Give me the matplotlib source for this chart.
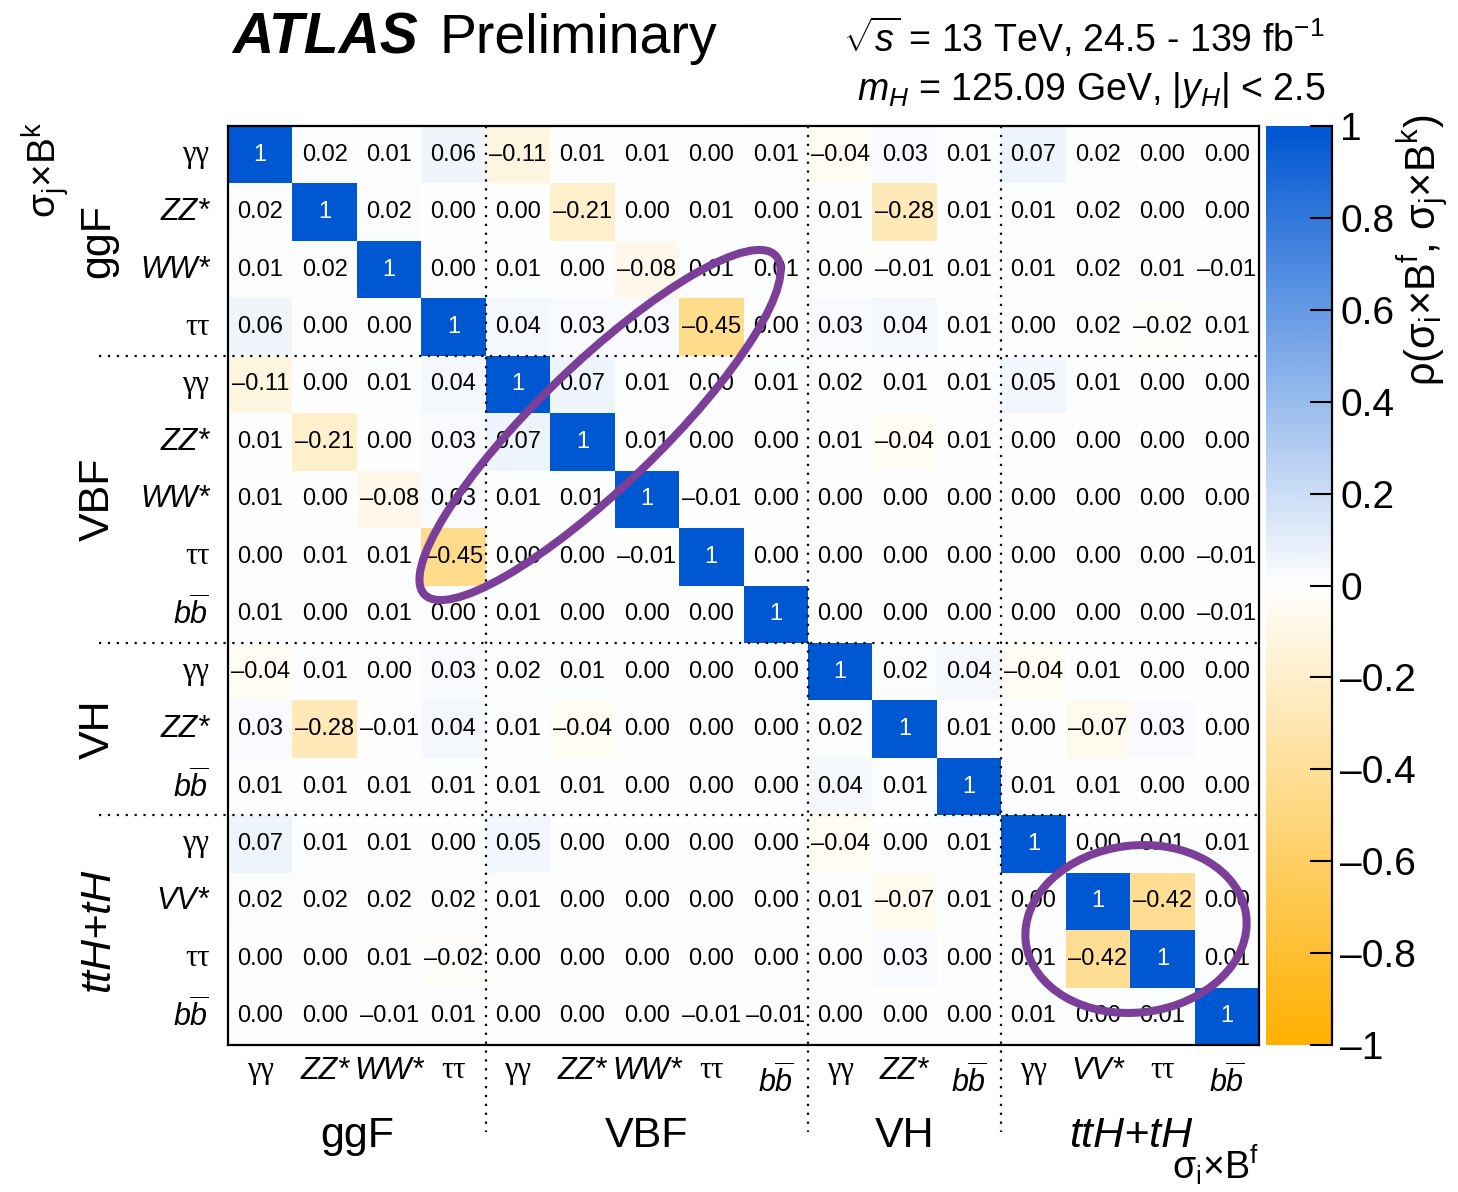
import numpy as np
import matplotlib
matplotlib.use("Agg")
import matplotlib.pyplot as plt
from matplotlib.colors import LinearSegmentedColormap
from matplotlib.patches import Ellipse

plt.rcParams['font.family'] = ['Liberation Sans', 'DejaVu Sans']
plt.rcParams['mathtext.fontset'] = 'custom'
plt.rcParams['mathtext.rm'] = 'Liberation Sans'
plt.rcParams['mathtext.it'] = 'Liberation Sans:italic'
plt.rcParams['mathtext.bf'] = 'Liberation Sans:bold'

# production modes and decay channels (same order on both axes)
groups = ['ggF', 'VBF', 'VH', 'ttH+tH']
group_sizes = [4, 5, 3, 4]
decays = ['yy', 'ZZ', 'WW', 'tt',
          'yy', 'ZZ', 'WW', 'tt', 'bb',
          'yy', 'ZZ', 'bb',
          'yy', 'VV', 'tt', 'bb']

corr = np.array([
    [1, 0.02, 0.01, 0.06, -0.11, 0.01, 0.01, 0.00, 0.01, -0.04, 0.03, 0.01, 0.07, 0.02, 0.00, 0.00],
    [0.02, 1, 0.02, 0.00, 0.00, -0.21, 0.00, 0.01, 0.00, 0.01, -0.28, 0.01, 0.01, 0.02, 0.00, 0.00],
    [0.01, 0.02, 1, 0.00, 0.01, 0.00, -0.08, 0.01, 0.01, 0.00, -0.01, 0.01, 0.01, 0.02, 0.01, -0.01],
    [0.06, 0.00, 0.00, 1, 0.04, 0.03, 0.03, -0.45, 0.00, 0.03, 0.04, 0.01, 0.00, 0.02, -0.02, 0.01],
    [-0.11, 0.00, 0.01, 0.04, 1, 0.07, 0.01, 0.00, 0.01, 0.02, 0.01, 0.01, 0.05, 0.01, 0.00, 0.00],
    [0.01, -0.21, 0.00, 0.03, 0.07, 1, 0.01, 0.00, 0.00, 0.01, -0.04, 0.01, 0.00, 0.00, 0.00, 0.00],
    [0.01, 0.00, -0.08, 0.03, 0.01, 0.01, 1, -0.01, 0.00, 0.00, 0.00, 0.00, 0.00, 0.00, 0.00, 0.00],
    [0.00, 0.01, 0.01, -0.45, 0.00, 0.00, -0.01, 1, 0.00, 0.00, 0.00, 0.00, 0.00, 0.00, 0.00, -0.01],
    [0.01, 0.00, 0.01, 0.00, 0.01, 0.00, 0.00, 0.00, 1, 0.00, 0.00, 0.00, 0.00, 0.00, 0.00, -0.01],
    [-0.04, 0.01, 0.00, 0.03, 0.02, 0.01, 0.00, 0.00, 0.00, 1, 0.02, 0.04, -0.04, 0.01, 0.00, 0.00],
    [0.03, -0.28, -0.01, 0.04, 0.01, -0.04, 0.00, 0.00, 0.00, 0.02, 1, 0.01, 0.00, -0.07, 0.03, 0.00],
    [0.01, 0.01, 0.01, 0.01, 0.01, 0.01, 0.00, 0.00, 0.00, 0.04, 0.01, 1, 0.01, 0.01, 0.00, 0.00],
    [0.07, 0.01, 0.01, 0.00, 0.05, 0.00, 0.00, 0.00, 0.00, -0.04, 0.00, 0.01, 1, 0.00, 0.01, 0.01],
    [0.02, 0.02, 0.02, 0.02, 0.01, 0.00, 0.00, 0.00, 0.00, 0.01, -0.07, 0.01, 0.00, 1, -0.42, 0.00],
    [0.00, 0.00, 0.01, -0.02, 0.00, 0.00, 0.00, 0.00, 0.00, 0.00, 0.03, 0.00, 0.01, -0.42, 1, 0.01],
    [0.00, 0.00, -0.01, 0.01, 0.00, 0.00, 0.00, -0.01, -0.01, 0.00, 0.00, 0.00, 0.01, 0.00, 0.01, 1],
])

cbar_ticks = [1, 0.8, 0.6, 0.4, 0.2, 0, -0.2, -0.4, -0.6, -0.8, -1]

n = len(decays)
W, H = 1458, 1192
fig = plt.figure(figsize=(W / 100, H / 100), dpi=100)
ax = fig.add_axes([228 / W, 1 - 1045 / H, (1259 - 228) / W, (1045 - 126) / H])
cax = fig.add_axes([1266 / W, 1 - 1045 / H, (1332 - 1266) / W, (1045 - 126) / H])

cmap = LinearSegmentedColormap.from_list('corr', ['#ffb000', '#ffffff', '#0057d2'])

ax.pcolormesh(np.arange(n + 1), np.arange(n + 1), corr, cmap=cmap, vmin=-1, vmax=1)
ax.set_xlim(0, n)
ax.set_ylim(n, 0)
ax.set_xticks([])
ax.set_yticks([])
for s in ax.spines.values():
    s.set_linewidth(1.6)


def fmt(v):
    if v == 1:
        return '1'
    s = '%.2f' % abs(v)
    return ('\u2013' + s) if v < 0 else s


def fmt_tick(v):
    s = '%g' % abs(v)
    return ('\u2013' + s) if v < 0 else s


for i in range(n):
    for j in range(n):
        v = corr[i, j]
        ax.text(j + 0.5, i + 0.5, fmt(v), ha='center', va='center', fontsize=17,
                color='white' if v == 1 else 'black')


def decay_label(x, y, key, **kw):
    if key in ('yy', 'tt'):
        txt = '\u03b3\u03b3' if key == 'yy' else '\u03c4\u03c4'
        ax.text(x, y, txt, family=['Liberation Serif', 'DejaVu Serif'], fontsize=22,
                clip_on=False, **kw)
    elif key == 'bb':
        ax.text(x, y, r'$b\overline{b}$', fontsize=22, clip_on=False, **kw)
    else:
        ax.text(x, y, key + '*', style='italic', fontsize=22, clip_on=False, **kw)


# row labels (left) and column labels (bottom)
for i, d in enumerate(decays):
    decay_label(-0.29, i + 0.5, d, ha='right', va='center')
    decay_label(i + 0.5, n + (0.33 if d == 'bb' else 0.2), d, ha='center', va='top')

# group separators and group names
edges = np.cumsum([0] + group_sizes)
for b in edges[1:-1]:
    ax.plot([b, b], [0, n + 1.52], color='black', lw=1.6, ls=(0, (1, 3)), clip_on=False)
    ax.plot([-2.0, n], [b, b], color='black', lw=1.6, ls=(0, (1, 3)), clip_on=False)

for g, lo, hi in zip(groups, edges[:-1], edges[1:]):
    st = 'italic' if g == 'ttH+tH' else 'normal'
    mid = 0.5 * (lo + hi)
    ax.text(mid, n + 1.78, g, ha='center', va='baseline', fontsize=31, style=st, clip_on=False)
    ax.text(-1.85, mid, g, ha='center', va='baseline', rotation=90, rotation_mode='anchor',
            fontsize=31, style=st, clip_on=False)

ax.text(-2.66, 0.77, '\u03c3$_\\mathrm{j}$\u00d7B$^\\mathrm{k}$', ha='center', va='baseline',
        rotation=90, rotation_mode='anchor', fontsize=28, clip_on=False)
ax.text(n, n + 2.32, '\u03c3$_\\mathrm{i}$\u00d7B$^\\mathrm{f}$', ha='right', va='baseline',
        fontsize=27, clip_on=False)

# colour scale
grad = np.linspace(-1, 1, 512)[:, None]
cax.imshow(grad, cmap=cmap, vmin=-1, vmax=1, aspect='auto', extent=[0, 1, -1, 1], origin='lower')
cax.set_xlim(0, 1)
cax.set_ylim(-1, 1)
cax.set_xticks([])
cax.yaxis.tick_right()
cax.set_yticks(cbar_ticks)
cax.set_yticklabels([fmt_tick(t) for t in cbar_ticks])
cax.tick_params(axis='y', direction='in', length=16, width=1.5, pad=6, labelsize=28)
for side in ('left', 'top', 'bottom'):
    cax.spines[side].set_visible(False)
cax.spines['right'].set_linewidth(1.6)

fig.text(1422 / W, 1 - 250 / H,
         '\u03c1(\u03c3$_\\mathrm{i}$\u00d7B$^\\mathrm{f}$, \u03c3$_\\mathrm{j}$\u00d7B$^\\mathrm{k}$)',
         rotation=90, ha='center', va='center', fontsize=30)

# header
fig.text(232 / W, 1 - 53 / H, 'ATLAS', fontsize=41, weight='bold', style='italic', va='baseline')
fig.text(440 / W, 1 - 53 / H, 'Preliminary', fontsize=40, va='baseline')
fig.text(1325 / W, 1 - 52 / H, r'$\sqrt{s}$ = 13 TeV, 24.5 - 139 fb$^{-1}$', fontsize=27,
         ha='right', va='baseline')
fig.text(1325 / W, 1 - 100 / H, r'$m_H$ = 125.09 GeV, $|y_H|$ < 2.5', fontsize=27,
         ha='right', va='baseline')

# highlighted correlations
purple = '#7b3f99'
fig.add_artist(Ellipse((6.00, (H - 425) / 100), 4.88, 1.22, angle=44, fill=False,
                       ec=purple, lw=5.8, transform=fig.dpi_scale_trans, zorder=10))
fig.add_artist(Ellipse((11.36, (H - 929) / 100), 2.22, 1.67, angle=7, fill=False,
                       ec=purple, lw=5.8, transform=fig.dpi_scale_trans, zorder=10))

fig.savefig('out.png', dpi=100)
